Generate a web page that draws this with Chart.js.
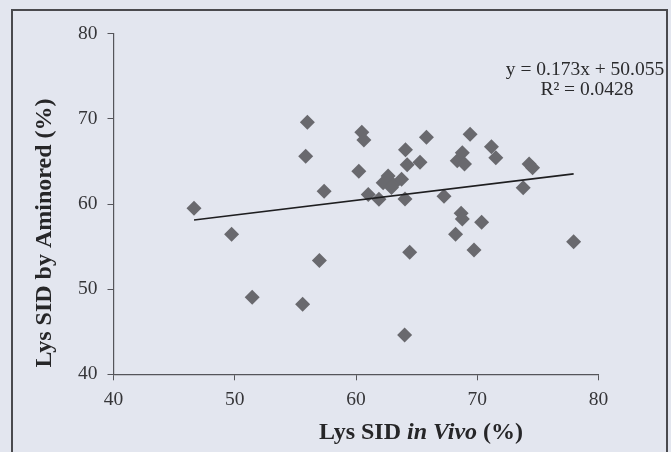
<!DOCTYPE html>
<html>
<head>
<meta charset="utf-8">
<script src="https://cdn.jsdelivr.net/npm/chart.js@4/dist/chart.umd.min.js"></script>
<style>
  html, body { margin: 0; padding: 0; background: #e3e6ef; }
  #wrap { position: relative; width: 671px; height: 452px; overflow: hidden; background: #e3e6ef; }
  #frame { position: absolute; left: 11px; top: 9px; width: 653px; height: 500px; border: 2px solid #4a4a4e; pointer-events: none; }
  canvas { position: absolute; left: 0; top: 0; }
</style>
</head>
<body>
<div id="wrap">
  <canvas id="c" width="671" height="452"></canvas>
  <div id="frame"></div>
</div>
<script>
// Lys SID in vivo (%)
const lysInVivo = [46.64, 49.74, 51.44, 55.60, 55.99, 55.85, 56.98, 57.37, 60.23, 60.48, 60.65,
  61.01, 61.89, 62.24, 62.65, 63.07, 62.93, 63.76, 64.08, 64.22, 64.04, 64.43, 64.01, 65.28,
  65.81, 67.26, 68.21, 68.67, 68.77, 68.35, 68.77, 68.95, 69.41, 69.73, 70.36, 71.17, 71.53,
  73.79, 74.28, 74.56, 77.95];
// Lys SID by AMINORed (%)
const lysAminored = [59.49, 56.44, 49.04, 48.22, 69.59, 65.60, 53.35, 61.49, 63.84, 68.42, 67.51,
  61.13, 60.55, 62.50, 63.29, 62.30, 61.95, 62.90, 66.38, 64.62, 60.59, 54.33, 44.62, 64.89,
  67.83, 60.90, 56.44, 58.90, 58.24, 65.09, 66.03, 64.70, 68.18, 54.60, 57.85, 66.73, 65.44,
  61.92, 64.70, 64.27, 55.58];
// Trendline coefficients and labels
const trendSlope = 0.173;
const trendIntercept = 50.055;
const equationText = 'y = 0.173x + 50.055';
const r2Text = 'R² = 0.0428';
const xTicks = [40, 50, 60, 70, 80];
const yTicks = [40, 50, 60, 70, 80];

const points = lysInVivo.map((x, i) => ({ x: x, y: lysAminored[i] }));
const xMin = Math.min(...lysInVivo), xMax = Math.max(...lysInVivo);
const trend = [xMin, xMax].map(x => ({ x: x, y: trendSlope * x + trendIntercept }));

const SERIF = "'Liberation Serif', 'Times New Roman', serif";

const textPlugin = {
  id: 'texts',
  afterDraw(chart) {
    const ctx = chart.ctx;
    ctx.save();
    ctx.fillStyle = '#262628';
    // X title with italic part
    const parts = [
      { t: 'Lys SID ', f: 'bold 24px ' + SERIF },
      { t: 'in Vivo', f: 'italic bold 24px ' + SERIF },
      { t: ' (%)', f: 'bold 24px ' + SERIF }
    ];
    let total = 0;
    parts.forEach(p => { ctx.font = p.f; p.w = ctx.measureText(p.t).width; total += p.w; });
    let x = 421 - total / 2;
    ctx.textBaseline = 'alphabetic';
    ctx.textAlign = 'left';
    parts.forEach(p => { ctx.font = p.f; ctx.fillText(p.t, x, 439); x += p.w; });
    // Y title
    ctx.save();
    ctx.translate(51, 233);
    ctx.rotate(-Math.PI / 2);
    ctx.font = 'bold 24px ' + SERIF;
    ctx.textAlign = 'center';
    ctx.fillText('Lys SID by Aminored (%)', 0, 0);
    ctx.restore();
    // Equation
    ctx.font = '19.5px ' + SERIF;
    ctx.textAlign = 'center';
    ctx.fillStyle = '#2a2a2c';
    ctx.fillText(equationText, 585, 75);
    ctx.fillText(r2Text, 587, 95);
    ctx.restore();
  }
};

new Chart(document.getElementById('c'), {
  type: 'scatter',
  data: {
    datasets: [
      {
        label: 'Lys SID',
        data: points,
        pointStyle: 'rectRot',
        pointRadius: 7.5,
        pointHoverRadius: 7.5,
        backgroundColor: '#69696e',
        borderColor: '#69696e',
        borderWidth: 0,
        order: 2
      },
      {
        label: 'Trend',
        type: 'line',
        data: trend,
        borderColor: '#1e1e20',
        borderWidth: 1.6,
        pointRadius: 0,
        fill: false,
        order: 1
      }
    ]
  },
  options: {
    responsive: false,
    animation: false,
    events: [],
    layout: { padding: { left: 0, right: 72.5, top: 33.7, bottom: 0 } },
    plugins: { legend: { display: false }, tooltip: { enabled: false } },
    scales: {
      x: {
        type: 'linear', min: 40, max: 80,
        afterBuildTicks: s => { s.ticks = xTicks.map(v => ({ value: v })); },
        afterFit: s => { s.height = 452 - 374.3; },
        grid: { display: true, drawOnChartArea: false, drawTicks: true, tickLength: 6, color: '#55555a', lineWidth: 1 },
        border: { display: true, color: '#55555a', width: 1.2 },
        ticks: { color: '#353538', padding: 8, font: { family: SERIF, size: 19.5 }, maxRotation: 0 }
      },
      y: {
        type: 'linear', min: 40, max: 80,
        afterBuildTicks: s => { s.ticks = yTicks.map(v => ({ value: v })); },
        afterFit: s => { s.width = 113.5; },
        grid: { display: true, drawOnChartArea: false, drawTicks: true, tickLength: 6, color: '#55555a', lineWidth: 1 },
        border: { display: true, color: '#55555a', width: 1.2 },
        ticks: { color: '#353538', padding: 10, font: { family: SERIF, size: 19.5 } }
      }
    }
  },
  plugins: [textPlugin]
});
</script>
</body>
</html>
